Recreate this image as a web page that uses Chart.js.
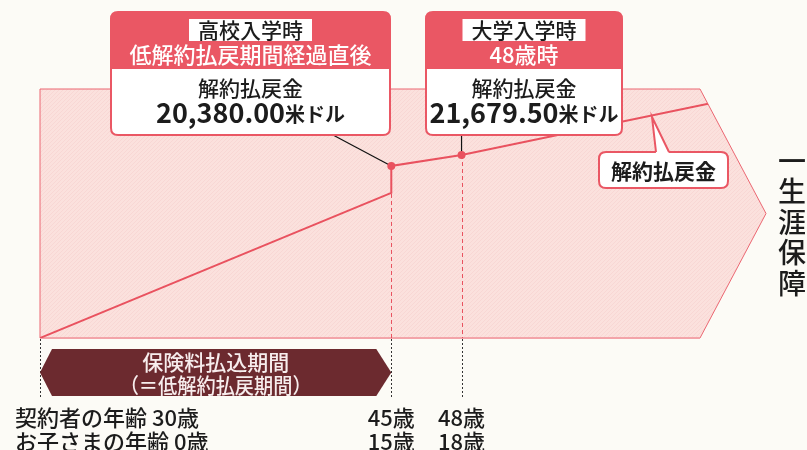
<!DOCTYPE html>
<html><head><meta charset="utf-8">
<script src="https://cdn.jsdelivr.net/npm/chart.js@4/dist/chart.umd.min.js"></script>
<style>html,body{margin:0;padding:0;background:#fcfbf6;}canvas{display:block;}</style>
</head><body>
<canvas id="c" width="807" height="450"></canvas>
<script>
// ---- data ----
const contractAges = [30, 45, 48];
const childAges = [0, 15, 18];
const lineAges = [30, 45, 45, 48, 61];
const lineValues = [0, 17200, 20380, 21679.5, 29180];
const markedAges = [45, 48];
const markedValues = [20380, 21679.5];
const boxTags = ["高校入学時", "大学入学時"];
const boxSubs = ["低解約払戻期間経過直後", "48歳時"];
const amountLabel = "解約払戻金";
const unitLabel = "米ドル";
const periodLabels = ["保険料払込期間", "（＝低解約払戻期間）"];
const rowLabels = ["契約者の年齢", "お子さまの年齢"];
const sideLabel = "一生涯保障";
const calloutLabel = "解約払戻金";

// ---- styles ----
const FONT = '"Noto Sans CJK JP","Noto Sans",sans-serif';
const RED = '#e9525f';
const HEAD = '#ea5764';
const PINK = '#fbe1dd';
const BROWN = '#6c2a2f';
const INK = '#1c1c1c';

function rrect(ctx, x, y, w, h, r) {
  ctx.beginPath();
  ctx.moveTo(x + r, y);
  ctx.lineTo(x + w - r, y); ctx.quadraticCurveTo(x + w, y, x + w, y + r);
  ctx.lineTo(x + w, y + h - r); ctx.quadraticCurveTo(x + w, y + h, x + w - r, y + h);
  ctx.lineTo(x + r, y + h); ctx.quadraticCurveTo(x, y + h, x, y + h - r);
  ctx.lineTo(x, y + r); ctx.quadraticCurveTo(x, y, x + r, y);
  ctx.closePath();
}
function fmt(v) { return v.toLocaleString('en-US', {minimumFractionDigits: 2, maximumFractionDigits: 2}); }

function drawBox(ctx, bx, by, bw, bh, headH, tag, sub, value) {
  ctx.save();
  rrect(ctx, bx, by, bw, bh, 7);
  ctx.fillStyle = '#fff'; ctx.fill();
  ctx.save(); ctx.clip();
  ctx.fillStyle = HEAD; ctx.fillRect(bx, by, bw, headH);
  ctx.restore();
  rrect(ctx, bx, by, bw, bh, 7);
  ctx.strokeStyle = HEAD; ctx.lineWidth = 2; ctx.stroke();
  const cx = bx + bw / 2;
  ctx.textAlign = 'center'; ctx.textBaseline = 'middle';
  ctx.font = '500 21px ' + FONT;
  const tw = ctx.measureText(tag).width;
  ctx.fillStyle = '#fff'; ctx.fillRect(cx - tw / 2 - 9, by + 7, tw + 18, 22);
  ctx.fillStyle = INK; ctx.fillText(tag, cx, by + 18.5);
  ctx.fillStyle = '#fff'; ctx.font = '500 22px ' + FONT;
  ctx.fillText(sub, cx, by + 43);
  ctx.fillStyle = INK; ctx.font = '500 21px ' + FONT;
  ctx.fillText(amountLabel, cx, by + 76);
  const num = fmt(value);
  ctx.font = 'bold 27px ' + FONT; const w1 = ctx.measureText(num).width;
  ctx.font = 'bold 20px ' + FONT; const w2 = ctx.measureText(unitLabel).width;
  let sx = cx - (w1 + w2) / 2;
  ctx.textAlign = 'left';
  ctx.font = 'bold 27px ' + FONT; ctx.fillText(num, sx, by + 101);
  ctx.font = 'bold 20px ' + FONT; ctx.fillText(unitLabel, sx + w1, by + 102);
  ctx.restore();
}

const infographic = {
  id: 'infographic',
  beforeDraw(chart) {
    const ctx = chart.ctx;
    ctx.save(); ctx.fillStyle = '#fcfbf6'; ctx.fillRect(0, 0, chart.width, chart.height); ctx.restore();
  },
  beforeDatasetsDraw(chart) {
    const {ctx, chartArea: a, scales: {x, y}} = chart;
    const tipW = 66, midY = (a.top + a.bottom) / 2;
    const shape = () => {
      ctx.beginPath();
      ctx.moveTo(a.left, a.top); ctx.lineTo(a.right - tipW, a.top);
      ctx.lineTo(a.right, midY); ctx.lineTo(a.right - tipW, a.bottom);
      ctx.lineTo(a.left, a.bottom); ctx.closePath();
    };
    ctx.save();
    shape(); ctx.fillStyle = PINK; ctx.fill();
    ctx.save(); shape(); ctx.clip();
    ctx.strokeStyle = 'rgba(236,170,170,0.16)'; ctx.lineWidth = 1;
    const hh = a.bottom - a.top;
    for (let k = a.left - hh; k < a.right + 10; k += 4) {
      ctx.beginPath(); ctx.moveTo(k, a.bottom); ctx.lineTo(k + hh, a.top); ctx.stroke();
    }
    ctx.restore();
    shape(); ctx.strokeStyle = '#ec6772'; ctx.lineWidth = 1; ctx.stroke();
    ctx.beginPath(); ctx.moveTo(a.left, a.bottom); ctx.lineTo(a.right - tipW, a.bottom);
    ctx.strokeStyle = '#f3a4a9'; ctx.lineWidth = 2; ctx.stroke();
    // dashed guides from marked points
    ctx.setLineDash([4, 3]); ctx.strokeStyle = RED; ctx.lineWidth = 1;
    markedAges.forEach((age, i) => {
      const px = Math.round(x.getPixelForValue(age)) + 0.5, py = y.getPixelForValue(markedValues[i]);
      ctx.beginPath(); ctx.moveTo(px, py); ctx.lineTo(px, a.bottom); ctx.stroke();
    });
    ctx.setLineDash([]);
    // connectors to boxes
    ctx.strokeStyle = '#111'; ctx.lineWidth = 1.2;
    const p1x = x.getPixelForValue(markedAges[0]), p1y = y.getPixelForValue(markedValues[0]);
    ctx.beginPath(); ctx.moveTo(333, 135); ctx.lineTo(p1x, p1y); ctx.stroke();
    const p2x = x.getPixelForValue(markedAges[1]), p2y = y.getPixelForValue(markedValues[1]);
    ctx.beginPath(); ctx.moveTo(p2x, 135); ctx.lineTo(p2x, p2y); ctx.stroke();
    ctx.restore();
    ctx.save(); shape(); ctx.clip();
  },
  afterDatasetsDraw(chart) {
    const {ctx, chartArea: a, scales: {x, y}} = chart;
    ctx.restore();
    ctx.save();
    // black dotted guides below the area
    ctx.setLineDash([2, 2]); ctx.strokeStyle = '#333'; ctx.lineWidth = 1;
    contractAges.forEach(age => {
      const px = Math.round(x.getPixelForValue(age)) + 0.5;
      ctx.beginPath(); ctx.moveTo(px, a.bottom + 1); ctx.lineTo(px, 397); ctx.stroke();
    });
    ctx.setLineDash([]);
    // premium period arrow
    const xa = x.getPixelForValue(contractAges[0]), xb = x.getPixelForValue(contractAges[1]);
    const t = 349, b = 396, m = (t + b) / 2;
    ctx.beginPath();
    ctx.moveTo(xa, m); ctx.lineTo(xa + 12, t); ctx.lineTo(xb - 15, t);
    ctx.lineTo(xb, m); ctx.lineTo(xb - 15, b); ctx.lineTo(xa + 12, b); ctx.closePath();
    ctx.fillStyle = BROWN; ctx.fill();
    ctx.fillStyle = '#f7eded'; ctx.textAlign = 'center'; ctx.textBaseline = 'middle';
    ctx.font = '500 21px ' + FONT;
    ctx.fillText(periodLabels[0], (xa + xb) / 2, 362);
    ctx.fillText(periodLabels[1], (xa + xb) / 2, 385, 192);
    // bottom age rows
    ctx.fillStyle = INK; ctx.font = '500 22px ' + FONT;
    ctx.textAlign = 'left';
    ctx.fillText(rowLabels[0] + ' ' + contractAges[0] + '歳', 15, 418);
    ctx.fillText(rowLabels[1] + ' ' + childAges[0] + '歳', 15, 442);
    ctx.textAlign = 'center';
    for (let i = 1; i < contractAges.length; i++) {
      const px = x.getPixelForValue(contractAges[i]);
      ctx.fillText(contractAges[i] + '歳', px, 418);
      ctx.fillText(childAges[i] + '歳', px, 442);
    }
    // callout boxes
    drawBox(ctx, 111, 12, 279, 123, 57, boxTags[0], boxSubs[0], markedValues[0]);
    drawBox(ctx, 426, 12, 196, 123, 57, boxTags[1], boxSubs[1], markedValues[1]);
    // line label callout
    ctx.lineWidth = 2; ctx.strokeStyle = HEAD; ctx.fillStyle = '#fff';
    rrect(ctx, 599, 152, 129, 36, 7); ctx.fill(); ctx.stroke();
    ctx.beginPath(); ctx.moveTo(656, 153); ctx.lineTo(652, 117); ctx.lineTo(669, 153); ctx.closePath();
    ctx.fill();
    ctx.beginPath(); ctx.moveTo(656, 152); ctx.lineTo(652, 117); ctx.lineTo(669, 152); ctx.stroke();
    ctx.fillRect(657, 150, 10, 4);
    ctx.fillStyle = INK; ctx.font = 'bold 21px ' + FONT; ctx.textAlign = 'center';
    ctx.fillText(calloutLabel, 663.5, 171);
    // side label
    ctx.font = '500 28px ' + FONT; ctx.fillStyle = INK;
    [...sideLabel].forEach((ch, i) => ctx.fillText(ch, 792, 161 + i * 30.5));
    ctx.restore();
  }
};

new Chart(document.getElementById('c'), {
  type: 'line',
  data: {
    datasets: [{
      data: lineAges.map((a, i) => ({x: a, y: lineValues[i]})),
      borderColor: RED, borderWidth: 2, tension: 0,
      pointRadius: c => markedValues.includes(lineValues[c.dataIndex]) ? 4 : 0,
      pointBackgroundColor: RED, pointBorderWidth: 0,
      clip: false
    }]
  },
  options: {
    responsive: false, animation: false, devicePixelRatio: 1, events: [],
    layout: {padding: {left: 40, right: 41, top: 89, bottom: 112}},
    scales: {
      x: {type: 'linear', min: 30, max: 61, display: false},
      y: {type: 'linear', min: 0, max: 29500, display: false}
    },
    plugins: {legend: {display: false}, tooltip: {enabled: false}}
  },
  plugins: [infographic]
});
</script>
</body></html>
